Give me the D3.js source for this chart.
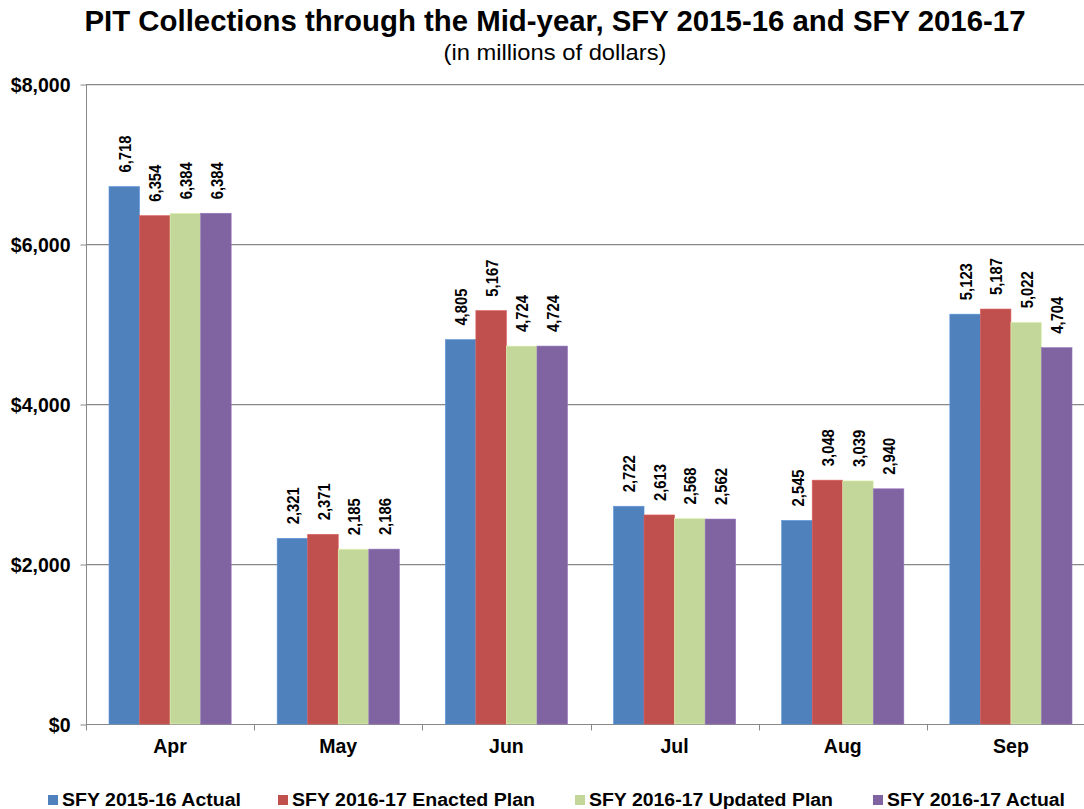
<!DOCTYPE html>
<html>
<head>
<meta charset="utf-8">
<script src="https://cdn.jsdelivr.net/npm/d3@7"></script>
<style>
  body { margin: 0; background: #fff; }
  text { font-family: "Liberation Sans", Arial, sans-serif; }
</style>
</head>
<body>
<svg id="chart"></svg>
<script>
var W = 1084,
    H = 809;

// data
var months = ["Apr", "May", "Jun", "Jul", "Aug", "Sep"];
var seriesNames = ["SFY 2015-16 Actual", "SFY 2016-17 Enacted Plan", "SFY 2016-17 Updated Plan", "SFY 2016-17 Actual"];
var actual1516 = [6718, 2321, 4805, 2722, 2545, 5123];
var enacted1617 = [6354, 2371, 5167, 2613, 3048, 5187];
var updated1617 = [6384, 2185, 4724, 2568, 3039, 5022];
var actual1617 = [6384, 2186, 4724, 2562, 2940, 4704];
var yTicks = [0, 2000, 4000, 6000, 8000];

var colors = ["#4F81BD", "#C0504D", "#C4D79B", "#8064A2"];
var allSeries = [actual1516, enacted1617, updated1617, actual1617];

var svg = d3.select("#chart").attr("width", W).attr("height", H);

// scales
var x = d3.scaleBand().domain(months).range([86, 1095]).padding(0);
var xInner = d3.scaleBand().domain(d3.range(4)).range([23, x.bandwidth() - 23]).padding(0);
var y = d3.scaleLinear().domain([0, 8000]).range([724, 84]);

//标题
svg.append("text")
    .attr("x", 555).attr("y", 31)
    .attr("text-anchor", "middle")
    .attr("font-size", 29).attr("font-weight", "bold")
    .attr("textLength", 941).attr("lengthAdjust", "spacingAndGlyphs")
    .text("PIT Collections through the Mid-year, SFY 2015-16 and SFY 2016-17");
svg.append("text")
    .attr("x", 555).attr("y", 60)
    .attr("text-anchor", "middle")
    .attr("font-size", 22)
    .attr("textLength", 223).attr("lengthAdjust", "spacingAndGlyphs")
    .text("(in millions of dollars)");

//网格线
var grid = svg.append("g");
grid.selectAll("line.shadow").data(yTicks.filter(function (d) { return d > 0; }))
    .enter().append("line").attr("class", "shadow")
    .attr("x1", 86).attr("x2", W)
    .attr("y1", function (d) { return y(d) + 1.5; })
    .attr("y2", function (d) { return y(d) + 1.5; })
    .attr("stroke", "#e0e0e0").attr("stroke-width", 1);
grid.selectAll("line.main").data(yTicks.filter(function (d) { return d > 0; }))
    .enter().append("line").attr("class", "main")
    .attr("x1", 86).attr("x2", W)
    .attr("y1", function (d) { return y(d) + 0.5; })
    .attr("y2", function (d) { return y(d) + 0.5; })
    .attr("stroke", "#888").attr("stroke-width", 1);

// y axis
var yAxis = svg.append("g")
    .attr("transform", "translate(86.5,0.5)")
    .call(d3.axisLeft(y).tickValues(yTicks).tickSize(6).tickPadding(10)
        .tickFormat(function (d) { return "$" + d3.format(",")(d); }));
yAxis.select(".domain").attr("stroke", "#888").attr("d", "M0," + y(8000) + "V" + (y(0) + 5));
yAxis.selectAll(".tick line").attr("stroke", "#888");
yAxis.selectAll(".tick text")
    .attr("font-size", 19.5).attr("font-weight", "bold").attr("fill", "#000")
    .attr("font-family", "Liberation Sans, Arial, sans-serif")
    .attr("dy", "0.35em");

// x axis
var xAxis = svg.append("g")
    .attr("transform", "translate(0," + (y(0) + 0.5) + ")");
xAxis.append("line").attr("x1", 86).attr("x2", W).attr("y1", 0).attr("y2", 0).attr("stroke", "#888");
xAxis.selectAll("line.tk").data(months)
    .enter().append("line").attr("class", "tk")
    .attr("x1", function (d) { return Math.round(x(d)) + 0.5; })
    .attr("x2", function (d) { return Math.round(x(d)) + 0.5; })
    .attr("y1", 0).attr("y2", 6).attr("stroke", "#888");
xAxis.selectAll("text").data(months)
    .enter().append("text")
    .attr("x", function (d) { return x(d) + x.bandwidth() / 2; })
    .attr("y", 28)
    .attr("text-anchor", "middle")
    .attr("font-size", 19.5).attr("font-weight", "bold")
    .text(function (d) { return d; });

//柱子
var groups = svg.selectAll("g.month").data(months)
    .enter().append("g").attr("class", "month")
    .attr("transform", function (d) { return "translate(" + x(d) + ",0)"; });

groups.each(function (m, mi) {
    var g = d3.select(this);
    allSeries.forEach(function (s, si) {
        var v = s[mi];
        g.append("rect")
            .attr("x", xInner(si))
            .attr("y", y(v))
            .attr("width", xInner.bandwidth())
            .attr("height", y(0) - y(v))
            .attr("fill", colors[si])
            .attr("stroke", d3.color(colors[si]).brighter(0.4))
            .attr("stroke-width", 0.6);
        var cx = xInner(si) + xInner.bandwidth() / 2;
        g.append("text")
            .attr("transform", "translate(" + (cx + 1) + "," + (y(v) - 14) + ")rotate(-90)")
            .attr("dy", "0.35em")
            .attr("font-size", 16).attr("font-weight", "bold")
            .attr("textLength", function () { return String(v).length > 3 ? 37 : 30; })
            .attr("lengthAdjust", "spacingAndGlyphs")
            .text(d3.format(",")(v));
    });
});

//图例
var legendX = [48, 278, 575, 873];
var legendW = [179, 243, 244, 178];
var legend = svg.selectAll("g.legend").data(seriesNames)
    .enter().append("g").attr("class", "legend")
    .attr("transform", function (d, i) { return "translate(" + legendX[i] + ",795)"; });
legend.append("rect")
    .attr("width", 10).attr("height", 10)
    .attr("fill", function (d, i) { return colors[i]; });
legend.append("text")
    .attr("x", 14).attr("y", 10.5)
    .attr("font-size", 18).attr("font-weight", "bold")
    .attr("textLength", function (d, i) { return legendW[i]; })
    .attr("lengthAdjust", "spacingAndGlyphs")
    .text(function (d) { return d; });
</script>
</body>
</html>
